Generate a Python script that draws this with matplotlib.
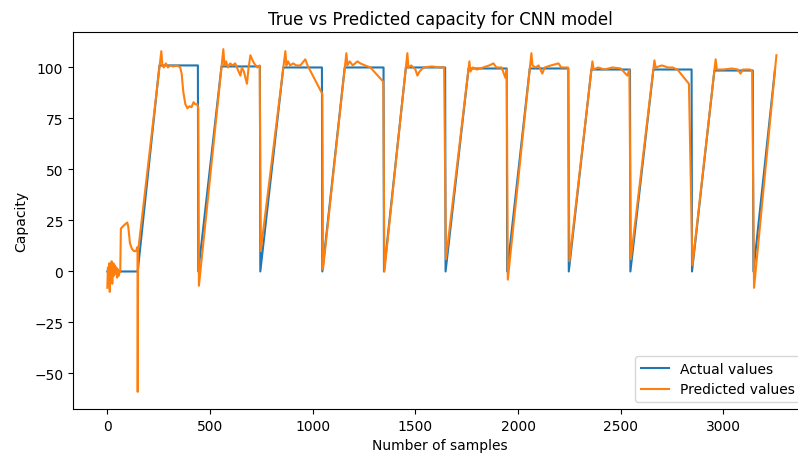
import matplotlib
matplotlib.use("Agg")
import matplotlib.pyplot as plt

# actual capacity (breakpoints)
actual_x = [0, 148, 254, 441, 443, 556, 743, 745, 857, 1045, 1047, 1156, 1345, 1347,
            1454, 1645, 1647, 1759, 1945, 1947, 2057, 2245, 2247, 2357, 2545, 2547,
            2659, 2845, 2847, 2956, 3143, 3146, 3251]
actual_y = [0, 0, 101, 101, 0, 100.5, 100.5, 0, 100, 100, 0, 100, 100, 0,
            100, 100, 0, 99.5, 99.5, 0, 99.5, 99.5, 0, 99, 99, 0,
            99, 99, 0, 98.5, 98.5, 0, 99]

# predicted capacity (CNN)
pred_x = [0, 3, 6, 9, 12, 15, 18, 21, 24, 27, 30, 33, 36, 40, 44, 48, 52, 56, 60, 63,
          66, 75, 85, 97, 102, 110, 120, 130, 140, 147, 148, 150,
          263, 268, 275, 285, 295, 305, 320, 340, 355, 362, 370, 380, 390, 400, 410,
          420, 428, 438, 443, 446,
          565, 570, 578, 588, 598, 610, 623, 635, 648, 655, 665, 680, 688, 697, 705,
          715, 730, 742, 747,
          867, 872, 880, 890, 905, 920, 940, 964, 975, 1047, 1050,
          1164, 1169, 1180, 1195, 1218, 1232, 1255, 1281, 1344, 1349,
          1461, 1466, 1480, 1500, 1510, 1520, 1540, 1580, 1620, 1640, 1649,
          1763, 1768, 1780, 1800, 1830, 1860, 1880, 1895, 1920, 1938, 1945, 1950,
          2065, 2070, 2085, 2100, 2118, 2130, 2160, 2197, 2210, 2243, 2250,
          2362, 2368, 2390, 2420, 2460, 2500, 2532, 2542, 2549,
          2664, 2670, 2700, 2730, 2752, 2776, 2832, 2849,
          2962, 2968, 3000, 3040, 3070, 3083, 3095, 3130, 3140, 3149,
          3258]
pred_y = [-8, 2, -5, 4, -10, 3, -3, 5, -6, 1, 4, -2, 3, -1, 2, -3, 1, -2, 0, 0,
          21, 22, 23, 24, 22, 14, 11, 10, 10, 12, -59, 10,
          108, 101, 100, 102, 100, 101, 100.5, 101, 100, 97, 88, 82, 80, 81, 80.5,
          83, 82, 82, 80, -7,
          109, 101, 103, 100, 102, 101, 102, 99, 96, 100, 98, 92, 100, 106, 104,
          102, 100, 101, 10,
          108, 101, 103, 101, 102, 101, 101, 104, 101, 87, 1,
          107, 101, 103, 101, 103, 102, 101, 100, 93, 0,
          107, 100, 101, 99, 96, 98, 100, 100.5, 100, 100, 6,
          103, 98, 100, 99, 100, 101, 102, 100, 100, 95, 99, -4,
          107, 101, 100, 101, 97, 100, 101, 102, 100, 100, 5,
          103, 99, 100, 99, 100, 99.5, 96, 99, 6,
          103.5, 100, 101, 100, 100, 99, 92, 3,
          104, 99, 99, 99.5, 99, 97, 99, 99, 98, -8,
          106]

fig = plt.figure(figsize=(7.98, 4.56), dpi=100)
# the original image is cropped on the right, so the axes run past the edge
ax = fig.add_axes([0.0915, 0.1009, 0.9198, 0.8268])

ax.plot(actual_x, actual_y, label="Actual values")
ax.plot(pred_x, pred_y, label="Predicted values")
ax.set_xlim(-167, 3407)

ax.set_title("True vs Predicted capacity for CNN model")
ax.set_xlabel("Number of samples")
ax.set_ylabel("Capacity")
ax.legend(loc="lower right")

fig.savefig("out.png", dpi=100)
